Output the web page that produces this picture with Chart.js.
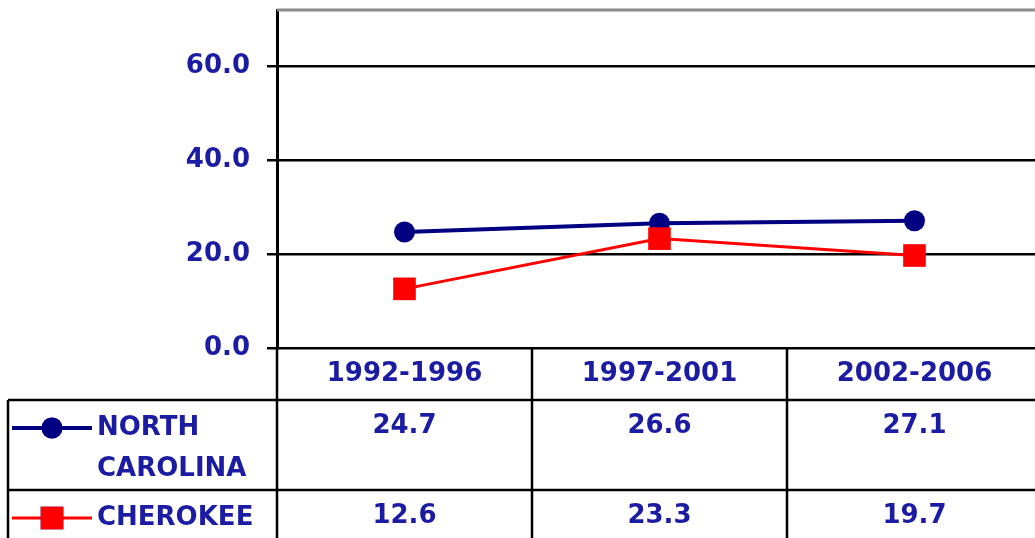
<!DOCTYPE html>
<html lang="en">
<head>
    <meta charset="UTF-8">
    <title>North Carolina vs Cherokee</title>
    <script src="https://cdn.jsdelivr.net/npm/chart.js@4.4.0/dist/chart.umd.min.js"></script>
    <style>
        html, body {
            margin: 0;
            padding: 0;
            background: #fff;
            overflow: hidden;
        }
        #chart {
            display: block;
        }
    </style>
</head>
<body>
<canvas id="chart" width="1044" height="538"></canvas>

<script>
    // Data
    const periods = ['1992-1996', '1997-2001', '2002-2006'];
    const northCarolina = [24.7, 26.6, 27.1];
    const cherokee = [12.6, 23.3, 19.7];
    const seriesNames = [['NORTH', 'CAROLINA'], ['CHEROKEE']];
    const yTicks = [0, 20, 40, 60];

    const textBlue = '#1c1ca2';
    const fontFamily = '"DejaVu Sans", Verdana, sans-serif';
    const labelFont = 'bold 26px ' + fontFamily;

    // Draws the data table under the plot (header row, values, legend keys)
    const dataTable = {
        id: 'dataTable',
        beforeDatasetsDraw(chart) {
            const { ctx, chartArea } = chart;
            ctx.save();
            ctx.strokeStyle = '#8c8c8c';
            ctx.lineWidth = 3;
            ctx.beginPath();
            ctx.moveTo(chartArea.left, chartArea.top);
            ctx.lineTo(chartArea.right, chartArea.top);
            ctx.stroke();
            ctx.restore();
        },
        afterDraw(chart) {
            const { ctx, chartArea } = chart;
            const xScale = chart.scales.x;
            const left = chartArea.left;
            const right = chartArea.right;
            const colW = (right - left) / periods.length;
            const top = chartArea.bottom;
            const headerBottom = 400;
            const row1Bottom = 490;
            const bottom = chart.height;
            const tableLeft = 8;

            ctx.save();
            ctx.strokeStyle = '#000';
            ctx.lineWidth = 2.5;
            ctx.beginPath();
            // vertical column lines
            for (let i = 0; i <= periods.length; i++) {
                const x = Math.round(left + i * colW);
                ctx.moveTo(x, top);
                ctx.lineTo(x, bottom);
            }
            // left edge of the legend column
            ctx.moveTo(tableLeft, headerBottom);
            ctx.lineTo(tableLeft, bottom);
            // row lines
            ctx.moveTo(tableLeft, headerBottom);
            ctx.lineTo(right, headerBottom);
            ctx.moveTo(tableLeft, row1Bottom);
            ctx.lineTo(right, row1Bottom);
            ctx.stroke();

            ctx.font = labelFont;
            ctx.fillStyle = textBlue;
            ctx.textAlign = 'center';
            ctx.textBaseline = 'middle';
            periods.forEach((p, i) => {
                const x = xScale.getPixelForValue(i);
                ctx.fillText(p, x, 374);
                ctx.fillText(northCarolina[i].toFixed(1), x, 426);
                ctx.fillText(cherokee[i].toFixed(1), x, 516);
            });

            // legend keys
            const keyRows = [428, 518];
            chart.data.datasets.forEach((ds, i) => {
                const y = keyRows[i];
                ctx.strokeStyle = ds.borderColor;
                ctx.lineWidth = ds.borderWidth;
                ctx.beginPath();
                ctx.moveTo(12, y);
                ctx.lineTo(92, y);
                ctx.stroke();
                Chart.helpers.drawPoint(ctx, {
                    pointStyle: ds.pointStyle,
                    radius: ds.pointRadius,
                    borderWidth: 0,
                    rotation: 0
                }, 52, y);
                ctx.fillStyle = ds.pointBackgroundColor;
                ctx.fill();

                ctx.fillStyle = textBlue;
                ctx.textAlign = 'left';
                seriesNames[i].forEach((line, j) => {
                    ctx.fillText(line, 97, y + j * 41);
                });
            });
            ctx.restore();
        }
    };

    new Chart(document.getElementById('chart'), {
        type: 'line',
        data: {
            labels: periods,
            datasets: [
                {
                    label: 'NORTH CAROLINA',
                    data: northCarolina,
                    borderColor: '#000080',
                    backgroundColor: '#000080',
                    borderWidth: 4,
                    pointStyle: 'circle',
                    pointRadius: 10.5,
                    pointBackgroundColor: '#000080',
                    pointBorderWidth: 0,
                    tension: 0,
                    order: 1
                },
                {
                    label: 'CHEROKEE',
                    data: cherokee,
                    borderColor: '#ff0000',
                    backgroundColor: '#ff0000',
                    borderWidth: 3,
                    pointStyle: 'rect',
                    pointRadius: 16,
                    pointBackgroundColor: '#ff0000',
                    pointBorderWidth: 0,
                    tension: 0,
                    order: 0
                }
            ]
        },
        options: {
            responsive: false,
            animation: false,
            layout: {
                autoPadding: false,
                padding: { top: 10, right: 2, bottom: 190, left: 0 }
            },
            plugins: {
                legend: { display: false },
                tooltip: { enabled: false }
            },
            scales: {
                x: {
                    display: false,
                    offset: true
                },
                y: {
                    min: 0,
                    max: 72,
                    afterBuildTicks(scale) {
                        scale.ticks = yTicks.map(v => ({ value: v }));
                    },
                    afterFit(scale) {
                        scale.width = 277;
                        scale.paddingTop = 0;
                        scale.paddingBottom = 0;
                    },
                    grid: {
                        color: '#000',
                        lineWidth: 2.5,
                        tickLength: 10,
                        drawTicks: true
                    },
                    border: {
                        color: '#000',
                        width: 3
                    },
                    ticks: {
                        padding: 17,
                        color: textBlue,
                        font: { family: fontFamily, size: 26, weight: 'bold' },
                        callback: v => Number(v).toFixed(1)
                    }
                }
            }
        },
        plugins: [dataTable]
    });
</script>
</body>
</html>
